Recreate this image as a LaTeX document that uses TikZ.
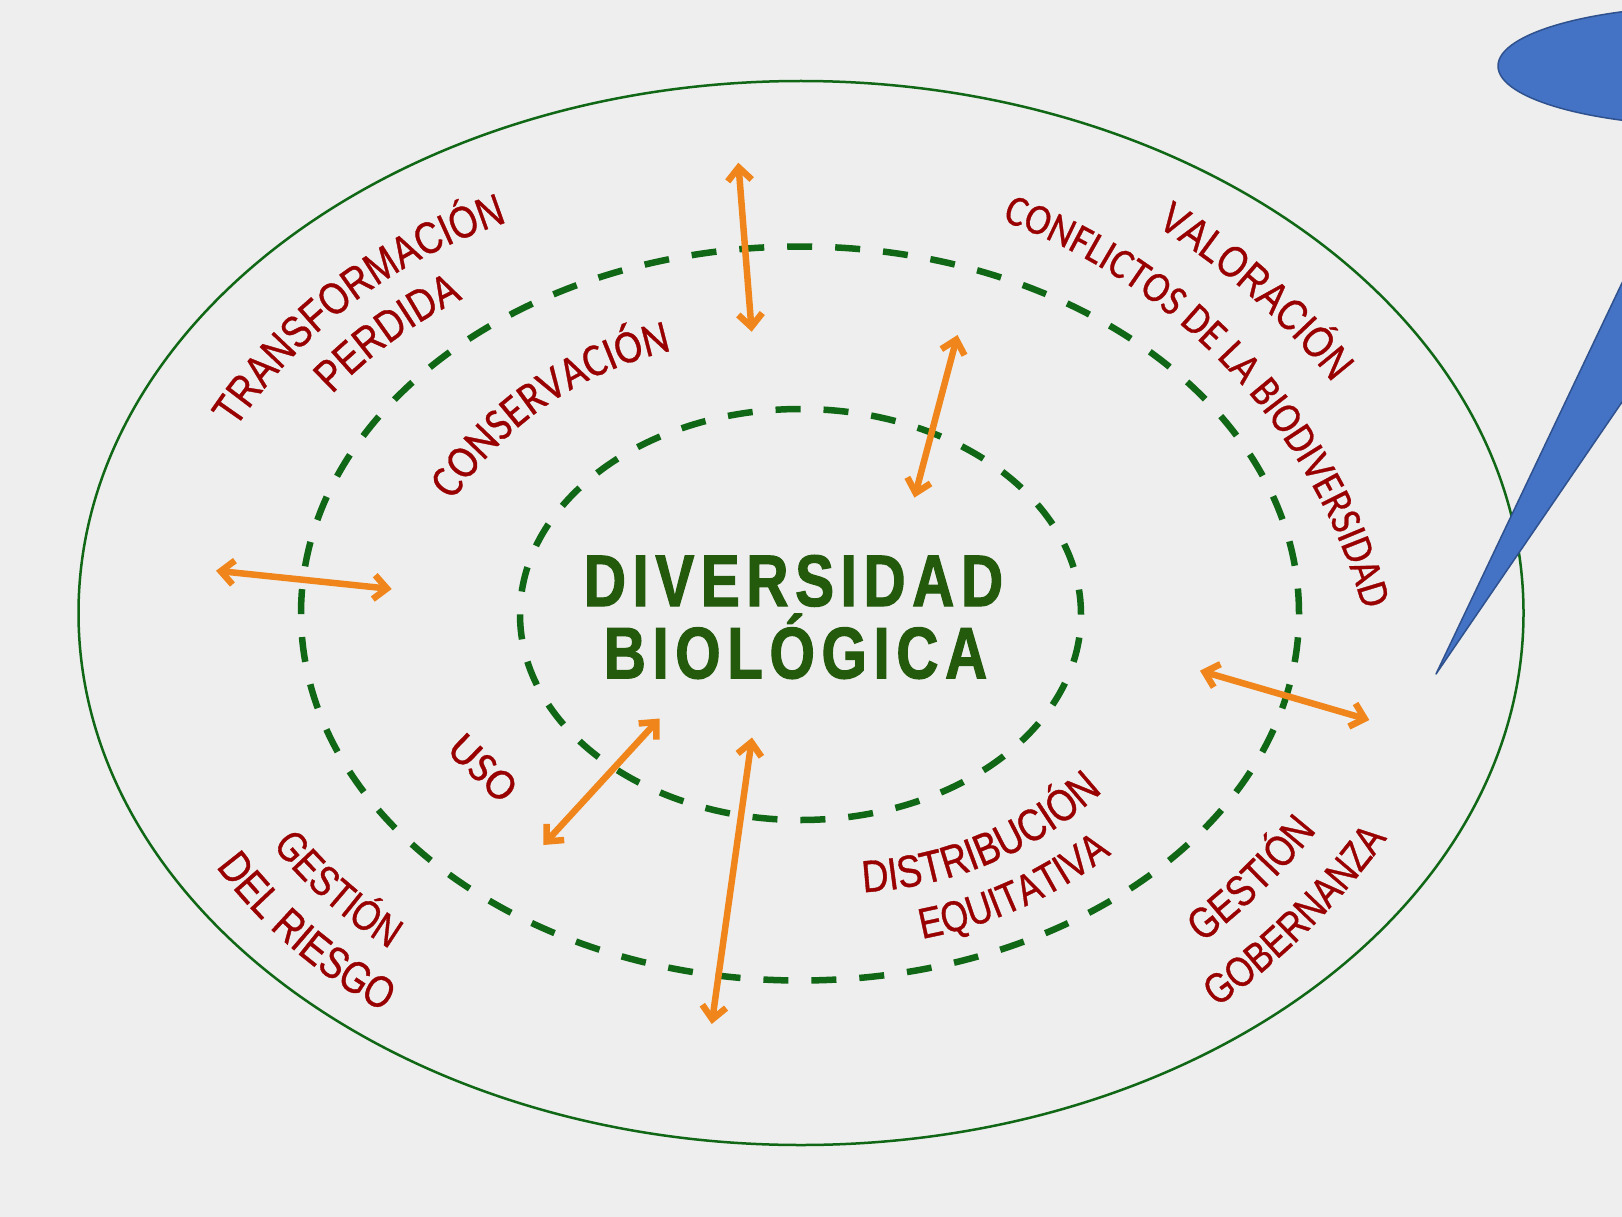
\documentclass[tikz,border=0pt]{standalone}
\usepackage{fontspec}
\usetikzlibrary{decorations.text, arrows.meta, shapes.geometric}
\newfontfamily\lsn[FakeStretch=0.82,FakeBold=0.8]{Liberation Sans}
\newfontfamily\carl[FakeStretch=0.88,FakeBold=0.6]{Carlito}
\newfontfamily\carlu[FakeBold=0.6]{Carlito}
\newfontfamily\titlef[FakeStretch=0.8,LetterSpace=9,FakeBold=1.5]{Liberation Sans}
\definecolor{bg}{RGB}{238,238,238}
\definecolor{ringgreen}{RGB}{16,104,22}
\definecolor{titlegreen}{RGB}{35,90,12}
\definecolor{lblred}{RGB}{153,0,0}
\definecolor{arrorange}{RGB}{240,134,27}
\definecolor{callblue}{RGB}{68,114,196}
\definecolor{callborder}{RGB}{47,82,143}
% #1 cx, #2 cy, #3 r, #4 start angle, #5 end angle, #6 font, #7 size, #8 text
\newcommand{\arclabel}[8]{%
  \path[decorate, decoration={text along path, text align=center, text color=lblred,
     text={|#6\fontsize{#7}{#7}\selectfont|#8}}]
     plot[domain=0:1, samples=150]
     ({#1+#3*cos((#4)+((#5)-(#4))*\x)}, {#2+#3*sin((#4)+((#5)-(#4))*\x)});
}
\begin{document}
\begin{tikzpicture}[x=1pt, y=-1pt,
  ring/.style={ellipse, draw=ringgreen, inner sep=0pt, outer sep=0pt},
  dashring/.style={ring, line width=6.5pt, dash pattern=on 25pt off 23pt},
  titletext/.style={text=titlegreen, inner sep=0pt, anchor=base,
     font=\titlef\bfseries\fontsize{73}{73}\selectfont},
  arr/.style={draw=arrorange, line width=6.5pt,
     {Straight Barb[length=13pt,width=24pt]}-{Straight Barb[length=13pt,width=24pt]}},
  callshape/.style={fill=callblue, draw=callborder, line width=1.5pt, line join=round}
]
\fill[bg] (0,0) rectangle (1622,1217);
\useasboundingbox (0,0) rectangle (1622,1217);

% rings
\node[ring, line width=2.5pt, minimum width=1445pt, minimum height=1064pt] (outer) at (801,613) {};
\node[dashring, minimum width=998pt, minimum height=734pt] (middle) at (800,613.5) {};
\node[dashring, minimum width=561pt, minimum height=411pt] (inner) at (800.5,614.5) {};

% title
\node[titletext] (title1) at (793.5,606) {DIVERSIDAD};
\node[titletext] (title2) at (795.5,678.3) {BIOLÓGICA};

% curved labels
\arclabel{667}{715}{518}{-152.73}{-101.53}{\lsn}{44.6}{TRANSFORMACIÓN}
\arclabel{667}{715}{463.6}{-142.85}{-109.45}{\lsn}{44.6}{PERDIDA}
\arclabel{749}{697.9}{355.6}{-152.37}{-96.37}{\carl}{47}{CONSERVACIÓN}
\arclabel{779.5}{827.1}{709.6}{-64.82}{-31.82}{\lsn}{44.1}{VALORACIÓN}
\arclabel{804}{767}{581}{-76.83}{-8.83}{\carl}{43.7}{CONFLICTOS DE LA BIODIVERSIDAD}
\arclabel{628.6}{558.8}{457.4}{147.47}{115.07}{\lsn}{42.5}{GESTIÓN}
\arclabel{628.6}{558.8}{514.9}{149.68}{111.88}{\lsn}{44.6}{DEL RIESGO}
\arclabel{843.8}{511}{381.7}{93.15}{41.15}{\lsn}{45.1}{DISTRIBUCIÓN}
\arclabel{843.8}{511}{434.9}{85.98}{45.58}{\lsn}{43}{EQUITATIVA}
\arclabel{805}{420.8}{655.8}{59.58}{31.78}{\lsn}{43.5}{GESTIÓN}
\arclabel{805}{420.8}{716.4}{61.85}{28.65}{\lsn}{42}{GOBERNANZA}

\node[font=\carlu\fontsize{44}{44}\selectfont, text=lblred, rotate=-44, inner sep=0pt] (uso) at (482.9,767.9) {USO};

% arrows
\coordinate (a1s) at (738.3,162.7);  \coordinate (a1e) at (751.7,331.7);
\coordinate (a2s) at (957.5,335);    \coordinate (a2e) at (914.4,497.6);
\coordinate (a3s) at (216,570.7);    \coordinate (a3e) at (391.7,589);
\coordinate (a4s) at (1200,670.7);   \coordinate (a4e) at (1369.3,720);
\coordinate (a5s) at (659.5,718.5);  \coordinate (a5e) at (543.3,845);
\coordinate (a6s) at (752,737.5);    \coordinate (a6e) at (711.7,1024);
\draw[arr] (a1s) -- (a1e);
\draw[arr] (a2s) -- (a2e);
\draw[arr] (a3s) -- (a3e);
\draw[arr] (a4s) -- (a4e);
\draw[arr] (a5s) -- (a5e);
\draw[arr] (a6s) -- (a6e);

% callout (partly outside the frame)
\begin{scope}
\clip (0,0) rectangle (1622,1217);
\node[ellipse, callshape, minimum width=434pt, minimum height=120pt, inner sep=0pt] (callout) at (1715,66) {};
\filldraw[callshape] (1436,674) -- (1700,119) -- (1700,288) -- cycle;
\end{scope}
\end{tikzpicture}
\end{document}
